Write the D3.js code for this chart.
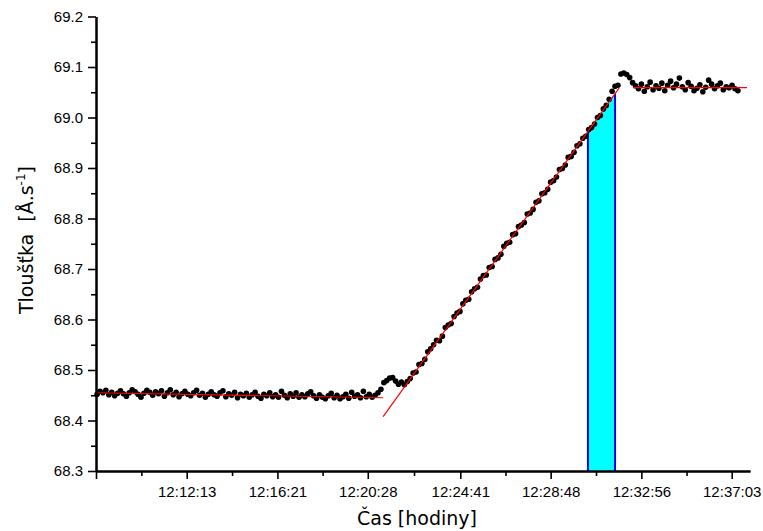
<!DOCTYPE html>
<html>
<head>
<meta charset="utf-8">
<script src="https://cdn.jsdelivr.net/npm/d3@7"></script>
<style>
  body { margin: 0; background: #fff; }
</style>
</head>
<body>
<svg id="svg"></svg>
<script>
// time axis
const tickLabels = ["12:12:13", "12:16:21", "12:20:28", "12:24:41", "12:28:48", "12:32:56", "12:37:03"];
const axisStart = "12:08:05";
const axisEnd = "12:37:53";
const yTicks = [68.3, 68.4, 68.5, 68.6, 68.7, 68.8, 68.9, 69.0, 69.1, 69.2];

// measured thickness, one sample every 8 s
const sampleStart = "12:08:08";
const sampleStep = 8;

const baseline = [
  68.452, 68.458, 68.455, 68.460, 68.451, 68.456, 68.449, 68.454, 68.459, 68.453,
  68.448, 68.455, 68.461, 68.457, 68.452, 68.446, 68.454, 68.460, 68.456, 68.450,
  68.457, 68.453, 68.459, 68.448, 68.455, 68.461, 68.451, 68.456, 68.447, 68.453,
  68.458, 68.452, 68.449, 68.455, 68.460, 68.450, 68.454, 68.446, 68.452, 68.457,
  68.451, 68.448, 68.455, 68.459, 68.447, 68.453, 68.450, 68.456, 68.445, 68.452,
  68.449, 68.454, 68.446, 68.451, 68.456, 68.448, 68.444, 68.452, 68.449, 68.455,
  68.447, 68.451, 68.446, 68.458, 68.450, 68.445, 68.453, 68.448, 68.455, 68.446,
  68.451, 68.447, 68.453, 68.457, 68.449, 68.444, 68.451, 68.446, 68.443, 68.449,
  68.454, 68.445, 68.450, 68.443, 68.447, 68.452, 68.444, 68.456, 68.448, 68.451,
  68.445, 68.458, 68.447, 68.452, 68.446, 68.450, 68.455, 68.462
];

const growth = [
  68.475, 68.479, 68.484, 68.485, 68.478, 68.472, 68.476, 68.471, 68.477, 68.483,
  68.494, 68.496, 68.511, 68.513, 68.521, 68.536, 68.542, 68.550, 68.559, 68.558,
  68.567, 68.584, 68.589, 68.592, 68.606, 68.613, 68.616, 68.631, 68.638, 68.640,
  68.655, 68.661, 68.664, 68.680, 68.687, 68.688, 68.703, 68.705, 68.719, 68.722,
  68.729, 68.745, 68.751, 68.753, 68.768, 68.770, 68.784, 68.787, 68.792, 68.809,
  68.811, 68.818, 68.832, 68.835, 68.849, 68.851, 68.858, 68.872, 68.875, 68.882,
  68.897, 68.899, 68.906, 68.921, 68.923, 68.931, 68.944, 68.948, 68.959, 68.963,
  68.976, 68.980, 68.987, 69.000, 69.004, 69.017, 69.024, 69.036, 69.052, 69.062,
  69.064, 69.086, 69.088, 69.085, 69.079, 69.069, 69.063
];

const plateau = [
  69.057, 69.066, 69.052, 69.061, 69.070, 69.055, 69.063, 69.058, 69.068, 69.053,
  69.064, 69.072, 69.059, 69.066, 69.078, 69.061, 69.055, 69.069, 69.062, 69.053,
  69.058, 69.065, 69.051, 69.060, 69.074, 69.066, 69.057, 69.063, 69.068, 69.055,
  69.061, 69.059, 69.064, 69.057, 69.053
];

// linear fits [start, value, end, value]
const fitStart = ["12:08:05", "12:21:10", "12:32:33"];
const fitStartValue = [68.455, 68.4075, 69.059];
const fitEnd = ["12:21:10", "12:31:55", "12:37:45"];
const fitEndValue = [68.445, 69.058, 69.059];

// highlighted interval under the growth fit
const shadeFrom = "12:30:30";
const shadeTo = "12:31:44";

const toSec = s => { const p = s.split(":").map(Number); return p[0] * 3600 + p[1] * 60 + p[2]; };

let layout = {"width": 763, "height": 531,
              "marginTop": 16.5, "marginRight": 13,
              "marginBottom": 60, "marginLeft": 96};

let svg = d3.select("#svg")
            .attr("width", layout.width)
            .attr("height", layout.height)
            .style("display", "block");

let xScale = d3.scaleLinear()
               .domain([toSec(axisStart), toSec(axisEnd)])
               .range([layout.marginLeft, layout.width - layout.marginRight]);

let yScale = d3.scaleLinear()
               .domain([68.3, 69.2])
               .range([layout.height - layout.marginBottom, layout.marginTop]);

let t0 = toSec(sampleStart);
let points = baseline.concat(growth, plateau).map((v, i) => ({"t": t0 + i * sampleStep, "v": v}));

let fits = fitStart.map((s, i) => [
  {"t": toSec(s), "v": fitStartValue[i]},
  {"t": toSec(fitEnd[i]), "v": fitEndValue[i]}
]);

// value of the growth fit at a given time
const onFit = (t) => {
  let f = fits[1];
  return f[0].v + (f[1].v - f[0].v) * (t - f[0].t) / (f[1].t - f[0].t);
};

let shade = [toSec(shadeFrom), toSec(shadeTo)].map(t => ({"t": t, "v": onFit(t)}));

svg.append("path")
   .datum(shade)
   .attr("fill", "#00ffff")
   .attr("d", d3.area().x(d => xScale(d.t)).y0(yScale(68.3)).y1(d => yScale(d.v)));

svg.selectAll(".edge")
   .data(shade)
   .join("line")
   .attr("class", "edge")
   .attr("x1", d => xScale(d.t))
   .attr("x2", d => xScale(d.t))
   .attr("y1", yScale(68.3))
   .attr("y2", d => yScale(d.v))
   .attr("stroke", "#0000ff")
   .attr("stroke-width", 2);

svg.selectAll(".dot")
   .data(points)
   .join("circle")
   .attr("class", "dot")
   .attr("cx", d => xScale(d.t))
   .attr("cy", d => yScale(d.v))
   .attr("r", 2.8)
   .attr("fill", "#000");

svg.selectAll(".fit")
   .data(fits)
   .join("path")
   .attr("class", "fit")
   .attr("fill", "none")
   .attr("stroke", "#ff0000")
   .attr("stroke-width", 1.2)
   .attr("d", d3.line().x(d => xScale(d.t)).y(d => yScale(d.v)));

// axes
let major = [toSec(axisStart)].concat(tickLabels.map(toSec));
let minor = d3.pairs(major).map(([a, b]) => (a + b) / 2);
let labelOf = new Map(tickLabels.map(s => [toSec(s), s]));

let xMinor = svg.append("g")
   .attr("transform", `translate(0, ${yScale(68.3)})`)
   .call(d3.axisBottom(xScale).tickValues(minor).tickSize(5).tickSizeOuter(0).tickFormat(""));

let xAxis = svg.append("g")
   .attr("transform", `translate(0, ${yScale(68.3)})`)
   .call(d3.axisBottom(xScale).tickValues(major).tickSize(8).tickSizeOuter(0).tickPadding(7)
           .tickFormat(d => labelOf.get(d) || ""));

let yMinor = svg.append("g")
   .attr("transform", `translate(${layout.marginLeft}, 0)`)
   .call(d3.axisLeft(yScale).tickValues(d3.pairs(yTicks).map(([a, b]) => (a + b) / 2))
           .tickSize(5).tickSizeOuter(0).tickFormat(""));

let yAxis = svg.append("g")
   .attr("transform", `translate(${layout.marginLeft}, 0)`)
   .call(d3.axisLeft(yScale).tickValues(yTicks).tickSize(8).tickSizeOuter(0).tickPadding(5)
           .tickFormat(d3.format(".1f")));

svg.selectAll(".domain").attr("stroke", "#000").attr("stroke-width", 2);
svg.selectAll(".tick line").attr("stroke", "#000").attr("stroke-width", 1.6);
svg.selectAll(".tick text")
   .attr("fill", "#000")
   .attr("font-family", "'Liberation Sans', Arial, sans-serif")
   .attr("font-size", 15);

svg.append("text")
   .attr("x", 417)
   .attr("y", 525)
   .attr("text-anchor", "middle")
   .attr("font-family", "'DejaVu Sans', Verdana, sans-serif")
   .attr("font-size", 19)
   .text("Čas [hodiny]");

let yTitle = svg.append("text")
   .attr("transform", "translate(33, 240) rotate(-90)")
   .attr("text-anchor", "middle")
   .attr("font-family", "'DejaVu Sans', Verdana, sans-serif")
   .attr("font-size", 19)
   .style("white-space", "pre");

yTitle.append("tspan").text("Tloušťka  [Å.s");
yTitle.append("tspan").attr("font-size", 12).attr("dy", -8).text("-1");
yTitle.append("tspan").attr("dy", 8).text("]");
</script>
</body>
</html>
